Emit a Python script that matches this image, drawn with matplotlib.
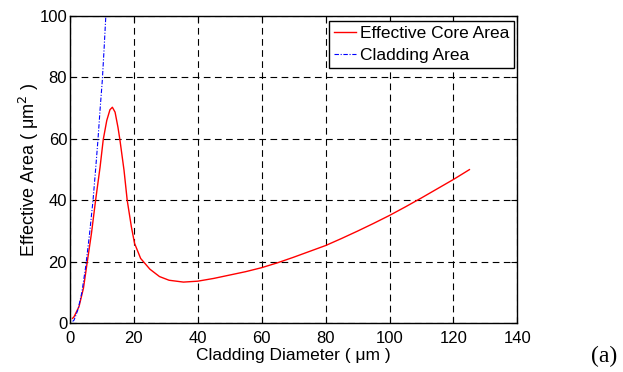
import matplotlib
matplotlib.use("Agg")
import matplotlib.pyplot as plt

plt.rcParams['font.family'] = ['Liberation Sans', 'DejaVu Sans']

# effective core area vs cladding diameter
core_d = [0.8, 1.25, 2.8, 4.2, 5.4, 6.7, 8.0, 9.4, 10.4, 11.5, 12.5, 13.25,
          14.1, 15.0, 15.6, 16.9, 17.9, 19.2, 20.2, 22.1, 25.0, 28.0, 31.0,
          35.5, 40.0, 45.0, 50.0, 55.0, 60.0, 65.0, 70.0, 75.0, 80.0,
          85.0, 90.0, 95.0, 100.0, 105.0, 110.0, 115.0, 120.0, 125.0]
core_area = [1.6, 2.1, 5.4, 11.4, 20.0, 29.2, 40.0, 50.8, 59.8, 66.0, 69.5, 70.3,
             68.7, 63.8, 59.8, 49.8, 40.0, 31.4, 26.0, 21.1, 17.6, 15.2, 14.0,
             13.4, 13.7, 14.6, 15.7, 16.8, 18.1, 19.7, 21.5, 23.4, 25.3,
             27.6, 30.0, 32.5, 35.1, 37.9, 40.8, 43.8, 46.8, 50.0]

# cladding area vs cladding diameter
clad_d = [0.8, 1.25, 2.5, 3.7, 4.9, 6.1, 7.2, 8.0, 8.75, 9.4, 10.1, 10.7, 11.2]
clad_area = [0.6, 1.0, 4.5, 10.0, 18.4, 29.0, 40.0, 50.0, 59.8, 69.5, 79.0, 90.0, 100.0]

xticks = [0, 20, 40, 60, 80, 100, 120, 140]
yticks = [0, 20, 40, 60, 80, 100]

fig = plt.figure(figsize=(6.23, 3.72), dpi=100)
ax = fig.add_axes([0.1124, 0.131, 0.7180, 0.826])

ax.plot(core_d, core_area, color='red', lw=1.0, label='Effective Core Area')
ax.plot(clad_d, clad_area, color='blue', lw=0.8, ls=(0, (4, 1.5, 1, 1.5)), label='Cladding Area')

ax.set_xlim(0, 140)
ax.set_ylim(0, 100)
ax.set_xticks(xticks)
ax.set_yticks(yticks)
ax.tick_params(direction='in', top=True, right=True, labelsize=12, length=4, width=0.8)
ax.tick_params(axis='x', pad=5.5)
ax.tick_params(axis='y', pad=2)
for s in ax.spines.values():
    s.set_linewidth(1.0)
ax.grid(True, color='black', lw=0.8, ls=(0, (6, 4)))

ax.set_xlabel('Cladding Diameter ( \u03bcm )', fontsize=12.5, labelpad=1.5)
ax.set_ylabel('Effective Area ( \u03bcm$^2$ )', fontsize=13, labelpad=-1)

leg = ax.legend(loc='upper right', fontsize=12.5, frameon=True, fancybox=False,
                bbox_to_anchor=(0.993, 0.985), borderaxespad=0,
                handlelength=1.25, handletextpad=0.2,
                borderpad=0.3, labelspacing=0.4, framealpha=1)
leg.get_frame().set_edgecolor('black')
leg.get_frame().set_linewidth(1.0)

fig.text(0.949, 0.028, '(a)', family='Liberation Serif', fontsize=17, ha='left', va='baseline')

fig.savefig('out.png', dpi=100)
